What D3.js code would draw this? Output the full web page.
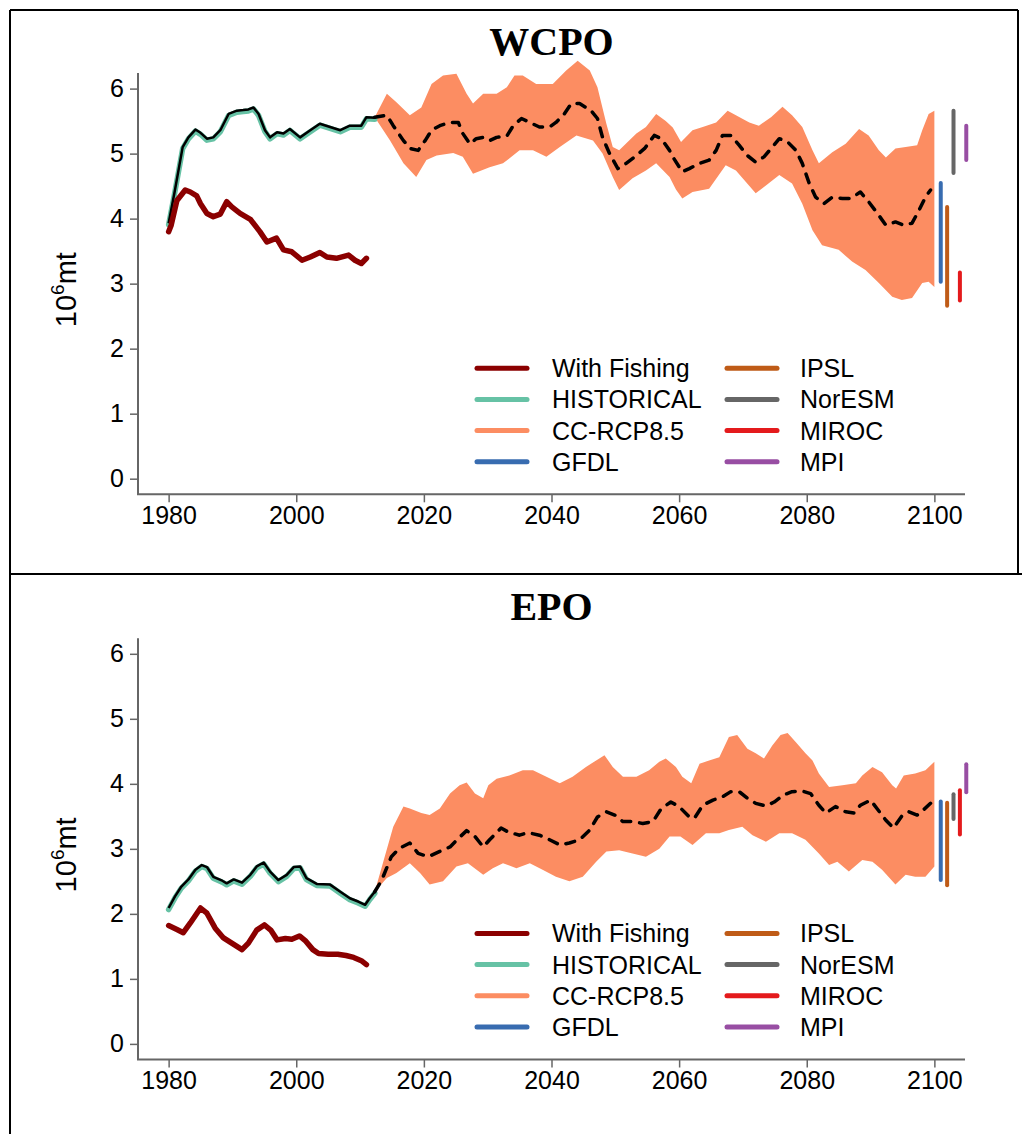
<!DOCTYPE html>
<html>
<head>
<meta charset="utf-8">
<script src="https://cdn.jsdelivr.net/npm/d3@7"></script>
<style>
  html, body { margin: 0; padding: 0; background: #fff; }
  svg { display: block; }
  text { font-family: "Liberation Sans", Arial, sans-serif; }
</style>
</head>
<body>
<svg id="chart" width="1022" height="1134"></svg>
<script>
// ---- data (10^6 mt), [year, value] ----
const xTicks = [1980, 2000, 2020, 2040, 2060, 2080, 2100];
const yTicks = [0, 1, 2, 3, 4, 5, 6];

const legendLeft = ["With Fishing", "HISTORICAL", "CC-RCP8.5", "GFDL"];
const legendRight = ["IPSL", "NorESM", "MIROC", "MPI"];
const models = ["GFDL", "IPSL", "NorESM", "MIROC", "MPI"];
const modelYears = [2101, 2102, 2103, 2104, 2105];

// WCPO
const wcpoHistorical = [[1980,3.93],[1980.9,4.39],[1982.2,5.10],[1983.1,5.25],[1984.2,5.37],[1985,5.32],[1986,5.23],[1987,5.25],[1988.1,5.36],[1989.4,5.61],[1990.7,5.66],[1991.7,5.67],[1992.5,5.68],[1993.3,5.71],[1994.1,5.61],[1995.1,5.36],[1995.9,5.25],[1997,5.33],[1998,5.31],[1999,5.38],[2000.6,5.25],[2002.2,5.36],[2003.7,5.46],[2005.3,5.41],[2006.9,5.36],[2008.4,5.43],[2010.2,5.43],[2011,5.56],[2012.3,5.55]];
const wcpoFishing = [[1980,3.80],[1980.4,3.90],[1981.3,4.28],[1982.6,4.44],[1983.4,4.41],[1984.4,4.35],[1985,4.23],[1986,4.08],[1987,4.03],[1988.1,4.07],[1989.1,4.26],[1989.9,4.18],[1991.2,4.08],[1992.8,3.99],[1994.3,3.80],[1995.4,3.64],[1996.9,3.70],[1998,3.52],[1999.3,3.49],[2000.9,3.36],[2002.2,3.41],[2003.7,3.48],[2004.8,3.41],[2006.3,3.39],[2008.2,3.44],[2009.2,3.36],[2010.2,3.31],[2011,3.39]];
const wcpoUpper = [[2012.3,5.56],[2014.2,5.92],[2015.7,5.79],[2017.8,5.59],[2019.6,5.71],[2021.2,6.07],[2023,6.20],[2025.1,6.23],[2026.7,5.92],[2027.7,5.77],[2029.3,5.92],[2031.4,5.92],[2033,6.02],[2034.2,6.20],[2035.5,6.20],[2037.6,6.07],[2040.2,6.07],[2042.3,6.28],[2044.1,6.43],[2046,6.28],[2047.2,6.02],[2048.6,5.46],[2049.6,5.10],[2050.6,5.05],[2053.3,5.31],[2054.8,5.41],[2056.4,5.61],[2057.9,5.50],[2059,5.40],[2060.3,5.18],[2062.1,5.36],[2063.7,5.41],[2065.8,5.48],[2067.6,5.66],[2068.9,5.59],[2071,5.48],[2072.5,5.43],[2074.4,5.56],[2076.2,5.72],[2077.7,5.59],[2079.3,5.41],[2080.9,5.05],[2081.9,4.85],[2084,5.02],[2086.1,5.15],[2088.2,5.38],[2089.7,5.28],[2091.3,5.05],[2092.4,4.94],[2093.9,5.08],[2095.5,5.10],[2097.3,5.13],[2098.1,5.36],[2099.1,5.61],[2100,5.66]];
const wcpoLower = [[2012.3,5.56],[2014.7,5.20],[2016.8,4.85],[2018.8,4.64],[2020.4,4.90],[2022,4.97],[2024.6,5.01],[2026.1,4.95],[2027.7,4.69],[2030.3,4.79],[2032.4,4.85],[2035,5.05],[2037.1,5.05],[2039.2,4.95],[2041.3,5.10],[2043.9,5.28],[2046.5,5.20],[2048,5.00],[2049.6,4.64],[2050.6,4.44],[2052.7,4.62],[2054.8,4.74],[2056.4,4.85],[2058.5,4.64],[2059.5,4.45],[2060.5,4.31],[2062.1,4.41],[2064.7,4.46],[2067.3,4.82],[2068.9,4.74],[2070.5,4.56],[2072,4.39],[2073.6,4.51],[2075.7,4.67],[2077.7,4.54],[2079.3,4.23],[2080.9,3.82],[2082.4,3.59],[2085,3.52],[2087.1,3.34],[2089.2,3.21],[2091.3,3.01],[2093.4,2.80],[2094.9,2.75],[2096.5,2.78],[2098.1,3.01],[2099.1,3.03],[2100,2.95]];
const wcpoMean = [[2012.3,5.56],[2014.2,5.59],[2015.2,5.43],[2016.8,5.20],[2017.8,5.08],[2019.1,5.05],[2020.2,5.20],[2021.2,5.36],[2022.5,5.43],[2024.1,5.48],[2025.4,5.48],[2026.1,5.31],[2027.2,5.15],[2028.2,5.23],[2029.3,5.25],[2030.3,5.20],[2031.4,5.25],[2033,5.27],[2034,5.43],[2035.3,5.54],[2036.6,5.48],[2038.1,5.41],[2039.7,5.41],[2040.7,5.48],[2042,5.61],[2043.1,5.77],[2044.4,5.77],[2046.2,5.66],[2047.2,5.54],[2048,5.25],[2049.1,5.00],[2050.4,4.77],[2051.7,4.85],[2053.3,4.97],[2054.6,5.08],[2056.1,5.28],[2057.2,5.23],[2058.5,5.05],[2059.2,4.92],[2060.5,4.72],[2061.6,4.77],[2063.2,4.85],[2064.7,4.90],[2065.8,5.05],[2066.8,5.28],[2068.1,5.28],[2069.4,5.13],[2070.7,4.97],[2072,4.87],[2073.3,4.95],[2074.6,5.10],[2075.7,5.23],[2077,5.18],[2078.3,5.05],[2079.3,4.85],[2080.4,4.54],[2081.4,4.33],[2082.7,4.23],[2084,4.33],[2085.6,4.31],[2086.9,4.31],[2088.4,4.41],[2089.7,4.26],[2091.3,4.05],[2092.4,3.90],[2093.9,3.95],[2095.2,3.90],[2096.5,3.93],[2097.6,4.13],[2098.6,4.33],[2099.4,4.44]];
const wcpoModelLow  = [3.03, 2.66, 4.70, 2.74, 4.90];
const wcpoModelHigh = [4.55, 4.18, 5.66, 3.17, 5.43];

// EPO
const epoHistorical = [[1980,2.09],[1981,2.27],[1982,2.42],[1983.1,2.53],[1984.2,2.68],[1985.2,2.75],[1986,2.72],[1987,2.57],[1988.4,2.51],[1989.1,2.47],[1990.2,2.53],[1991.5,2.48],[1992.8,2.60],[1993.8,2.73],[1994.9,2.79],[1995.9,2.65],[1997.2,2.52],[1998.5,2.60],[1999.6,2.72],[2000.6,2.73],[2001.6,2.55],[2003.2,2.46],[2005.3,2.45],[2006.9,2.34],[2008.4,2.24],[2009.7,2.19],[2010.8,2.14],[2011.5,2.24],[2012.3,2.34]];
const epoFishing = [[1980,1.82],[1981.3,1.76],[1982.3,1.71],[1983.4,1.86],[1985,2.09],[1986,2.01],[1987.3,1.78],[1988.6,1.63],[1990.2,1.53],[1991.5,1.45],[1992.5,1.55],[1993.8,1.75],[1995,1.83],[1996,1.75],[1997,1.60],[1998.3,1.62],[1999.3,1.61],[2000.5,1.66],[2001.5,1.58],[2002.6,1.45],[2003.5,1.39],[2005,1.38],[2006.5,1.38],[2007.8,1.36],[2009,1.33],[2010.2,1.28],[2011,1.22]];
const epoUpper = [[2012.3,2.34],[2015.2,3.34],[2016.8,3.65],[2017.8,3.62],[2019.6,3.55],[2020.9,3.52],[2022.5,3.62],[2024.1,3.85],[2025.6,3.98],[2026.7,4.02],[2028,3.85],[2029.3,3.78],[2030.1,3.98],[2031.4,4.08],[2033.4,4.13],[2035.5,4.21],[2037.1,4.21],[2039.2,4.11],[2041.3,4.01],[2043.3,4.11],[2045.4,4.26],[2047,4.36],[2048.3,4.44],[2049.6,4.26],[2051.2,4.11],[2053.3,4.11],[2055.3,4.21],[2056.9,4.34],[2057.9,4.39],[2059.5,4.26],[2060.5,4.11],[2061.9,4.01],[2063.2,4.31],[2064.7,4.36],[2066.3,4.41],[2067.8,4.72],[2069.1,4.75],[2070.7,4.54],[2072,4.47],[2073.3,4.39],[2074.6,4.59],[2075.9,4.75],[2077,4.78],[2078.3,4.64],[2079.8,4.47],[2080.9,4.36],[2081.9,4.16],[2083.5,3.95],[2085.6,3.98],[2087.7,4.01],[2088.7,4.13],[2090.3,4.26],[2091.8,4.18],[2093.4,3.98],[2094,3.93],[2095.2,4.13],[2097,4.16],[2098.6,4.21],[2100,4.34]];
const epoLower = [[2012.3,2.34],[2014.2,2.55],[2015.7,2.63],[2017.8,2.78],[2019.4,2.63],[2020.9,2.45],[2023,2.50],[2025.1,2.73],[2026.9,2.78],[2029.3,2.60],[2030.8,2.70],[2032.4,2.78],[2034.5,2.70],[2036.6,2.78],[2038.6,2.68],[2040.7,2.57],[2042.8,2.50],[2044.9,2.57],[2047,2.80],[2048.6,2.96],[2050.6,2.98],[2052.7,2.93],[2054.8,2.88],[2056.9,3.00],[2058.5,3.19],[2060.2,3.19],[2062.1,3.06],[2064.2,3.24],[2066.3,3.24],[2067.8,3.29],[2069.9,3.34],[2071.5,3.21],[2073.6,3.11],[2075.7,3.24],[2077.7,3.24],[2079.8,3.14],[2081.9,2.93],[2083.5,2.75],[2084.8,2.80],[2086.6,2.65],[2088.7,2.83],[2090.3,2.80],[2091.8,2.68],[2093.9,2.45],[2095.5,2.60],[2097,2.57],[2098.6,2.57],[2100,2.73]];
const epoMean = [[2012.3,2.34],[2013.4,2.52],[2014.9,2.88],[2016.2,3.01],[2017.8,3.09],[2019.1,2.93],[2020.7,2.88],[2022.5,2.96],[2024.1,3.03],[2025.4,3.16],[2026.7,3.28],[2028,3.19],[2029.3,3.03],[2030.3,3.14],[2032.1,3.32],[2033.2,3.26],[2035,3.21],[2036.3,3.25],[2038.1,3.21],[2039.7,3.14],[2041.3,3.06],[2042.8,3.09],[2044.4,3.14],[2046,3.29],[2047.2,3.49],[2048.6,3.57],[2049.9,3.52],[2051.2,3.42],[2052.7,3.42],[2054.3,3.39],[2055.9,3.42],[2057.2,3.62],[2058.7,3.72],[2060,3.65],[2061.6,3.49],[2062.4,3.47],[2063.7,3.67],[2065.3,3.75],[2066.8,3.80],[2068.1,3.88],[2069.4,3.88],[2070.7,3.78],[2072,3.70],[2073.6,3.66],[2074.9,3.72],[2076.4,3.83],[2077.7,3.88],[2079.3,3.89],[2080.6,3.85],[2081.9,3.67],[2083,3.55],[2084.5,3.65],[2086.1,3.57],[2087.4,3.55],[2088.4,3.67],[2090,3.75],[2091,3.62],[2092.4,3.44],[2093.6,3.32],[2095,3.52],[2096,3.57],[2097.3,3.52],[2098.3,3.60],[2099.4,3.70]];
const epoModelLow  = [2.52, 2.44, 3.46, 3.22, 3.87];
const epoModelHigh = [3.73, 3.71, 3.84, 3.90, 4.30];

// ---- styling ----
const colors = {
  "With Fishing": "#8b0000",
  "HISTORICAL": "#66c2a5",
  "CC-RCP8.5": "#fc8d62",
  "GFDL": "#386cb0",
  "IPSL": "#bf5b17",
  "NorESM": "#666666",
  "MIROC": "#e41a1c",
  "MPI": "#984ea3"
};

const svg = d3.select("#chart");

// outer frame
const frame = svg.append("g").attr("stroke", "#000").attr("stroke-width", 2).attr("fill", "none");
frame.append("line").attr("x1", 10).attr("y1", 10).attr("x2", 1018).attr("y2", 10);
frame.append("line").attr("x1", 10).attr("y1", 10).attr("x2", 10).attr("y2", 1134);
frame.append("line").attr("x1", 1018).attr("y1", 10).attr("x2", 1018).attr("y2", 574);
frame.append("line").attr("x1", 10).attr("y1", 574).attr("x2", 1022).attr("y2", 574);

const plotLeft = 138, plotRight = 965;
const x = d3.scaleLinear().domain([1975.2, 2104.8]).range([plotLeft, plotRight]);

function drawPanel(top, title, hist, fishing, upper, lower, mean, mLow, mHigh) {
  const plotTop = top, plotBottom = top + 421.3;
  const y = d3.scaleLinear().domain([-0.24, 6.24]).range([plotBottom, plotTop]);
  const g = svg.append("g");
  const line = d3.line().x(d => x(d[0])).y(d => y(d[1]));

  // title
  g.append("text")
    .attr("x", (plotLeft + plotRight) / 2).attr("y", top - 18)
    .attr("text-anchor", "middle")
    .style("font-family", "'Liberation Serif', 'Times New Roman', serif")
    .style("font-weight", "bold").style("font-size", "40px")
    .text(title);

  // y axis label
  const yl = g.append("text")
    .attr("transform", `translate(76,${(plotTop + plotBottom) / 2 + 6}) rotate(-90)`)
    .attr("text-anchor", "middle")
    .style("font-size", "29px");
  yl.append("tspan").text("10");
  yl.append("tspan").attr("dy", -12).style("font-size", "19px").text("6");
  yl.append("tspan").attr("dy", 12).text("mt");

  // projection envelope
  const poly = upper.concat(lower.slice().reverse());
  g.append("path").datum(poly)
    .attr("d", line(poly) + "Z")
    .attr("fill", colors["CC-RCP8.5"]).attr("stroke", "none");

  // historical runs
  g.append("path").datum(hist).attr("d", line)
    .attr("transform", "translate(0,1.5)")
    .attr("fill", "none").attr("stroke", colors["HISTORICAL"])
    .attr("stroke-width", 5.5).attr("stroke-linejoin", "round").attr("stroke-linecap", "round");
  g.append("path").datum(hist).attr("d", line)
    .attr("fill", "none").attr("stroke", "#000")
    .attr("stroke-width", 2.5).attr("stroke-linejoin", "round");

  // fishing scenario
  g.append("path").datum(fishing).attr("d", line)
    .attr("fill", "none").attr("stroke", colors["With Fishing"])
    .attr("stroke-width", 5.5).attr("stroke-linejoin", "round").attr("stroke-linecap", "round");

  // ensemble mean projection
  g.append("path").datum(mean).attr("d", line)
    .attr("fill", "none").attr("stroke", "#000")
    .attr("stroke-width", 3.5).attr("stroke-dasharray", "9,9")
    .attr("stroke-linecap", "round").attr("stroke-linejoin", "round");

  // per-model ranges at 2100
  g.selectAll("line.model").data(models).enter().append("line")
    .attr("class", "model")
    .attr("x1", (d, i) => x(modelYears[i])).attr("x2", (d, i) => x(modelYears[i]))
    .attr("y1", (d, i) => y(mLow[i])).attr("y2", (d, i) => y(mHigh[i]))
    .attr("stroke", d => colors[d]).attr("stroke-width", 4).attr("stroke-linecap", "round");

  // axes
  const axisCol = "#666";
  const ya = g.append("g").attr("transform", `translate(${plotLeft},0)`)
    .call(d3.axisLeft(y).tickValues(yTicks).tickSize(8).tickPadding(6).tickFormat(d3.format("d")));
  ya.select(".domain").remove();
  const xa = g.append("g").attr("transform", `translate(0,${plotBottom})`)
    .call(d3.axisBottom(x).tickValues(xTicks).tickSize(8).tickPadding(4).tickFormat(d3.format("d")));
  xa.select(".domain").remove();
  [ya, xa].forEach(a => {
    a.selectAll(".tick line").attr("stroke", axisCol).attr("stroke-width", 1.5);
    a.selectAll(".tick text").attr("fill", "#000")
      .style("font-family", "'Liberation Sans', Arial, sans-serif").style("font-size", "25px");
  });
  g.append("path")
    .attr("d", `M${plotLeft},${plotTop}V${plotBottom}H${plotRight}`)
    .attr("fill", "none").attr("stroke", axisCol).attr("stroke-width", 2);

  // legend
  const lg = g.append("g");
  const rowY = i => y(0) - 110.5 + i * 31.2;
  [[legendLeft, 477, 552], [legendRight, 727, 800]].forEach(([names, lx, tx]) => {
    names.forEach((n, i) => {
      lg.append("line").attr("x1", lx).attr("x2", lx + 50)
        .attr("y1", rowY(i)).attr("y2", rowY(i))
        .attr("stroke", colors[n]).attr("stroke-width", 5).attr("stroke-linecap", "round");
      lg.append("text").attr("x", tx).attr("y", rowY(i) + 9)
        .style("font-size", "25px").attr("fill", "#000").text(n);
    });
  });
}

drawPanel(73, "WCPO", wcpoHistorical, wcpoFishing, wcpoUpper, wcpoLower, wcpoMean, wcpoModelLow, wcpoModelHigh);
drawPanel(638.2, "EPO", epoHistorical, epoFishing, epoUpper, epoLower, epoMean, epoModelLow, epoModelHigh);
</script>
</body>
</html>
